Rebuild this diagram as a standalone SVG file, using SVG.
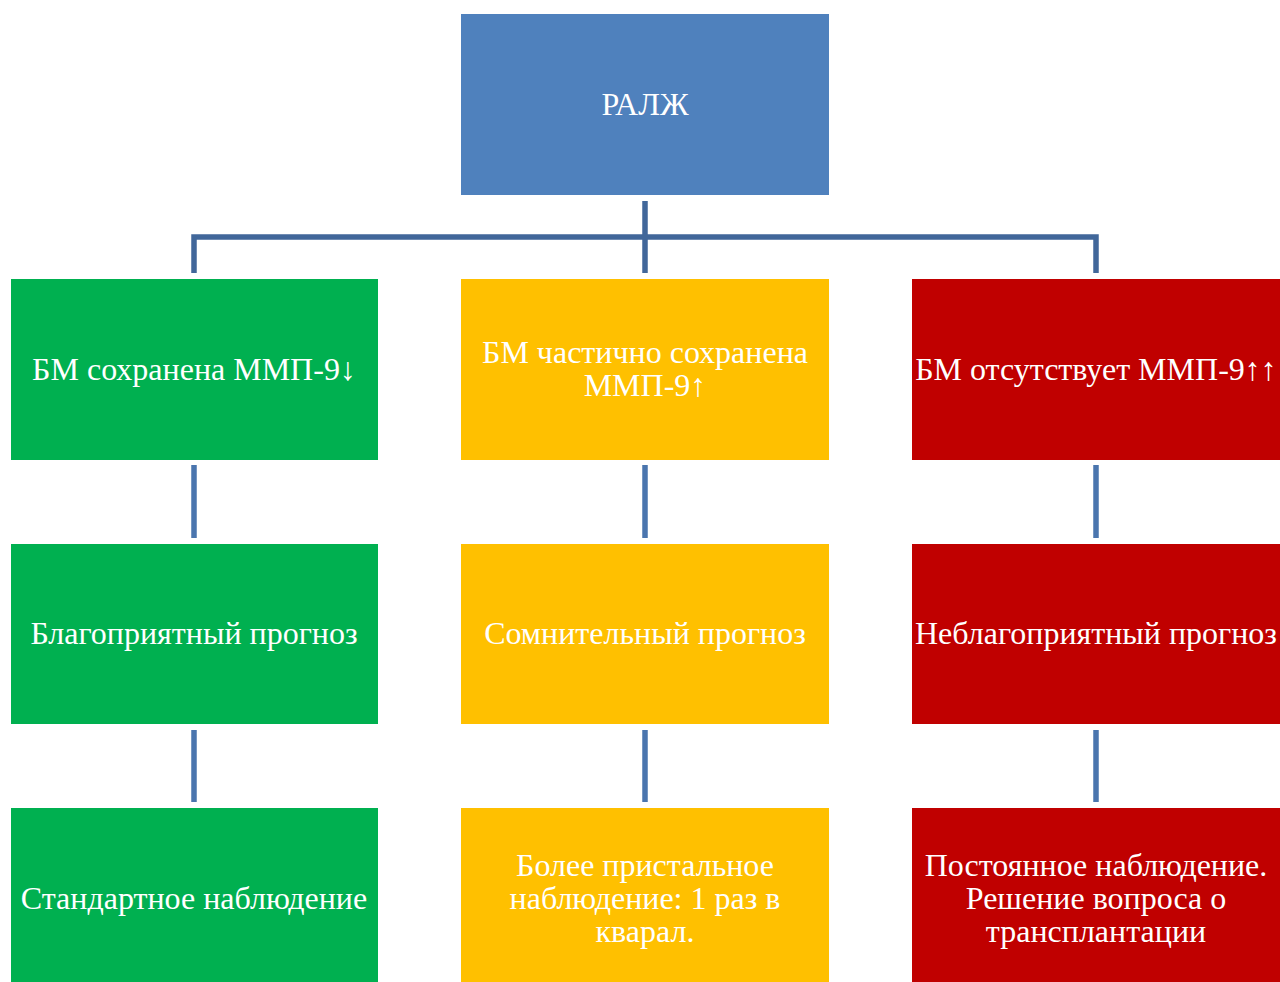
<svg xmlns="http://www.w3.org/2000/svg" width="1280" height="982" viewBox="0 0 1280 982">
<style>
.t{font-family:"Liberation Serif","Times New Roman",serif;font-size:32px;fill:#fff;text-anchor:middle}
.b{fill:#4F81BD}.g{fill:#00B050}.y{fill:#FFC000}.r{fill:#C00000}
.c1{stroke:#41679A;stroke-width:5.5;fill:none}
.c2{stroke:#4A75AE;stroke-width:5.5;fill:none}
</style>
<rect width="1280" height="982" fill="#fff"/>
<g id="connectors">
<path class="c1" d="M645 201V273M194 273V237H1096V273"/>
<path class="c2" d="M194 465V538M645 465V538M1096 465V538M194 730V802M645 730V802M1096 730V802"/>
</g>
<g id="root"><rect class="b" x="461" y="14" width="368" height="181"/><text class="t" x="645" y="115">РАЛЖ</text></g>
<g id="g1"><rect class="g" x="11" y="279" width="367" height="181"/><text class="t" x="194" y="380">БМ сохранена ММП-9↓</text></g>
<g id="y1"><rect class="y" x="461" y="279" width="368" height="181"/><text class="t" x="645" y="363">БМ частично сохранена</text><text class="t" x="645" y="396">ММП-9↑</text></g>
<g id="r1"><rect class="r" x="912" y="279" width="368" height="181"/><text class="t" x="1096" y="380">БМ отсутствует ММП-9↑↑</text></g>
<g id="g2"><rect class="g" x="11" y="544" width="367" height="180"/><text class="t" x="194" y="644">Благоприятный прогноз</text></g>
<g id="y2"><rect class="y" x="461" y="544" width="368" height="180"/><text class="t" x="645" y="644">Сомнительный прогноз</text></g>
<g id="r2"><rect class="r" x="912" y="544" width="368" height="180"/><text class="t" x="1096" y="644">Неблагоприятный прогноз</text></g>
<g id="g3"><rect class="g" x="11" y="808" width="367" height="174"/><text class="t" x="194" y="909">Стандартное наблюдение</text></g>
<g id="y3"><rect class="y" x="461" y="808" width="368" height="174"/><text class="t" x="645" y="876">Более пристальное</text><text class="t" x="645" y="909">наблюдение: 1 раз в</text><text class="t" x="645" y="942">кварал.</text></g>
<g id="r3"><rect class="r" x="912" y="808" width="368" height="174"/><text class="t" x="1096" y="876">Постоянное наблюдение.</text><text class="t" x="1096" y="909">Решение вопроса о</text><text class="t" x="1096" y="942">трансплантации</text></g>
</svg>
